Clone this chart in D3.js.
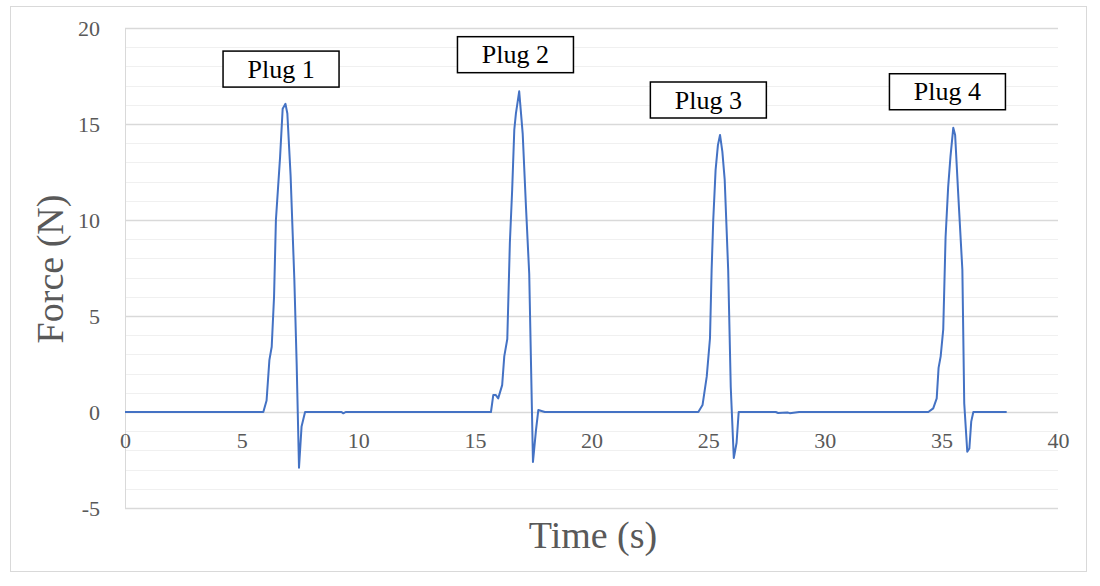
<!DOCTYPE html>
<html><head><meta charset="utf-8">
<script src="https://cdn.jsdelivr.net/npm/d3@7"></script>
<style>
html,body{margin:0;padding:0;background:#fff;}
svg{display:block;}
text{font-family:"Liberation Serif","Times New Roman",serif;}
</style></head>
<body>
<svg id="chart" width="1100" height="586"></svg>
<script>
// ---- data ----
const timeValues = [0, 5.93, 6.07, 6.19, 6.29, 6.39, 6.47, 6.65, 6.76, 6.88, 6.96, 7.10, 7.26, 7.36, 7.46, 7.57, 7.72,
  9.28, 9.36, 9.46,
  15.69, 15.79, 15.89, 16.0, 16.17, 16.26, 16.39, 16.5, 16.6, 16.69, 16.76, 16.9, 17.05, 17.19, 17.33, 17.49, 17.62, 17.72, 18.0,
  24.58, 24.76, 24.94, 25.08, 25.15, 25.22, 25.32, 25.42, 25.51, 25.61, 25.71, 25.86, 25.97, 26.1, 26.22, 26.31,
  27.9, 28.0, 28.4, 28.5, 28.9, 29.0,
  34.44, 34.65, 34.8, 34.88, 34.97, 35.08, 35.18, 35.29, 35.39, 35.51, 35.59, 35.72, 35.9, 35.98, 36.11, 36.2, 36.28, 36.37, 37.8];
const forceValues = [0, 0, 0.6, 2.7, 3.4, 6.0, 10.0, 13.3, 15.8, 16.05, 15.55, 12.3, 6.9, 2.5, -2.9, -0.75, 0,
  0, -0.07, 0,
  0, 0.89, 0.89, 0.71, 1.4, 2.9, 3.8, 8.8, 11.6, 14.7, 15.55, 16.7, 14.5, 10.7, 7.2, -2.6, -0.94, 0.1, 0,
  0, 0.36, 1.84, 3.84, 7.4, 10.0, 12.6, 13.9, 14.43, 13.56, 12.1, 7.4, 1.3, -2.4, -1.6, 0,
  0, -0.05, -0.03, -0.06, 0, 0,
  0, 0.19, 0.71, 2.3, 2.9, 4.3, 9.1, 11.7, 13.3, 14.8, 14.43, 11.4, 7.4, 0.45, -2.07, -1.9, -0.5, 0, 0];
const xTicks = [0, 5, 10, 15, 20, 25, 30, 35, 40];
const yTicks = [-5, 0, 5, 10, 15, 20];
const yMinorTicks = d3.range(-5, 21, 1);
const plugLabels = ["Plug 1", "Plug 2", "Plug 3", "Plug 4"];
const labelTimes = [6.69, 16.74, 25.01, 35.26];
const labelForces = [17.86, 18.61, 16.25, 16.68];
const xTitle = "Time (s)";
const yTitle = "Force (N)";

// ---- layout ----
const svg = d3.select("#chart");
const pL = 125, pR = 1058, pT = 28, pB = 508;
const x = d3.scaleLinear().domain([0, 40]).range([pL, pR]);
const y = d3.scaleLinear().domain([-5, 20]).range([pB, pT]);
const grey = "#595959";
const fmt = d => String(d);

// outer chart border
svg.append("rect").attr("x", 10.5).attr("y", 6.5).attr("width", 1076).attr("height", 565)
  .attr("fill", "#fff").attr("stroke", "#d9d9d9").attr("stroke-width", 1);

// minor gridlines
svg.append("g").selectAll("line").data(yMinorTicks.filter(v => v % 5 !== 0)).join("line")
  .attr("x1", pL).attr("x2", pR)
  .attr("y1", d => Math.round(y(d)) + 0.5).attr("y2", d => Math.round(y(d)) + 0.5)
  .attr("stroke", "#f0f0f0").attr("stroke-width", 1);

// major gridlines via axis
const yAxis = d3.axisLeft(y).tickValues(yTicks).tickSize(-(pR - pL)).tickPadding(25).tickFormat(fmt);
const gy = svg.append("g").attr("transform", `translate(${pL},0)`).call(yAxis);
gy.select(".domain").attr("stroke", "#d9d9d9");
gy.selectAll(".tick line").attr("stroke", "#d9d9d9").attr("stroke-width", 1.3);
gy.selectAll(".tick text").attr("fill", grey).attr("font-size", 22)
  .attr("font-family", '"Liberation Serif", serif').attr("dy", "0.34em");

// x axis labels (axis crossing at 0)
const xAxis = d3.axisBottom(x).tickValues(xTicks).tickSize(0).tickPadding(20).tickFormat(fmt);
const gx = svg.append("g").attr("transform", `translate(0,${y(0)})`).call(xAxis);
gx.select(".domain").remove();
gx.selectAll(".tick text").attr("fill", grey).attr("font-size", 22)
  .attr("font-family", '"Liberation Serif", serif');

// line
const line = d3.line().x((d, i) => x(timeValues[i])).y(d => y(d));
svg.append("path").datum(forceValues).attr("d", line)
  .attr("fill", "none").attr("stroke", "#4472C4").attr("stroke-width", 2).attr("stroke-linejoin", "round");

// axis titles
svg.append("text").attr("x", 593).attr("y", 548).attr("text-anchor", "middle")
  .attr("fill", grey).attr("font-size", 38).text(xTitle);
svg.append("text").attr("transform", "translate(63,269) rotate(-90)").attr("text-anchor", "middle")
  .attr("fill", grey).attr("font-size", 38).text(yTitle);

// plug labels
const bw = 116, bh = 36;
const lab = svg.append("g").selectAll("g").data(plugLabels).join("g")
  .attr("transform", (d, i) => `translate(${x(labelTimes[i])},${y(labelForces[i])})`);
lab.append("rect").attr("x", -bw / 2).attr("y", -bh / 2).attr("width", bw).attr("height", bh)
  .attr("fill", "#fff").attr("stroke", "#000").attr("stroke-width", 1.5);
lab.append("text").attr("text-anchor", "middle").attr("dy", "0.33em")
  .attr("font-family", '"Liberation Serif", serif')
  .attr("font-size", 26).attr("fill", "#000").text(d => d);
</script>
</body></html>
